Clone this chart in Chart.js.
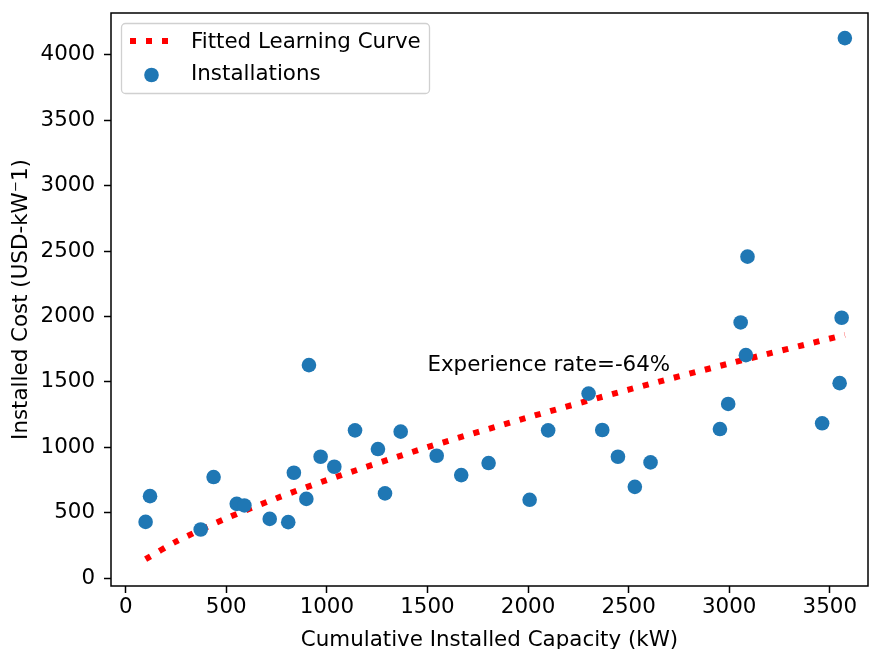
<!DOCTYPE html>
<html>
<head>
<meta charset="utf-8">
<script src="https://cdn.jsdelivr.net/npm/chart.js@4"></script>
<style>
  html, body { margin: 0; padding: 0; background: #fff; }
  #wrap { width: 870px; height: 649px; }
</style>
</head>
<body>
<div id="wrap"><canvas id="chart" width="870" height="649"></canvas></div>
<script>
/* ---- data ---- */
const capacity = [99, 121, 373, 437, 552, 590, 716, 808, 836, 898, 911, 969, 1037, 1140, 1254, 1289, 1367, 1546,
                  1668, 1804, 2008, 2100, 2301, 2369, 2447, 2531, 2609, 2954, 2995, 3057, 3083, 3091, 3462, 3549, 3559, 3575];
const cost = [429, 626, 371, 772, 567, 555, 452, 427, 805, 605, 1628, 927, 851, 1129, 986, 647, 1119, 935,
              787, 879, 598, 1129, 1410, 1132, 927, 697, 884, 1139, 1331, 1954, 1704, 2457, 1183, 1490, 1990, 4128];

// fitted learning curve
const curveCapacity = [99, 250, 500, 750, 1000, 1500, 2000, 2500, 3000, 3575];
const curveCost = [144, 278, 456, 610, 749, 1000, 1228, 1440, 1640, 1859];

const xTicks = [0, 500, 1000, 1500, 2000, 2500, 3000, 3500];
const yTicks = [0, 500, 1000, 1500, 2000, 2500, 3000, 3500, 4000];

const seriesNames = ["Fitted Learning Curve", "Installations"];
const annotationText = "Experience rate=-64%";
const annotationAt = [1500, 1580];

const FONT = "'DejaVu Sans', sans-serif";
const FS = 21.4;
const BLUE = "#1f77b4";
const RED = "#ff0000";

/* ---- frame, annotation and legend ---- */
const extrasPlugin = {
    id: "extras",
    afterDatasetsDraw(chart) {
        const ctx = chart.ctx;
        const a = chart.chartArea;
        const xs = chart.scales.x, ys = chart.scales.y;
        ctx.save();

        // annotation text
        ctx.font = FS + "px " + FONT;
        ctx.fillStyle = "#000";
        ctx.textAlign = "left";
        ctx.textBaseline = "alphabetic";
        ctx.fillText(annotationText, xs.getPixelForValue(annotationAt[0]), ys.getPixelForValue(annotationAt[1]));

        // legend box
        const bx = 121.5, by = 23.5, bw = 308, bh = 70, r = 4;
        ctx.beginPath();
        ctx.roundRect(bx, by, bw, bh, r);
        ctx.fillStyle = "rgba(255,255,255,0.8)";
        ctx.fill();
        ctx.strokeStyle = "#d0d0d0";
        ctx.lineWidth = 1.3;
        ctx.stroke();

        // dotted sample
        ctx.beginPath();
        ctx.setLineDash([6, 10]);
        ctx.lineCap = "butt";
        ctx.strokeStyle = RED;
        ctx.lineWidth = 6;
        ctx.moveTo(130, 41);
        ctx.lineTo(171, 41);
        ctx.stroke();
        ctx.setLineDash([]);

        // marker sample
        ctx.beginPath();
        ctx.arc(151.5, 75, 7.3, 0, Math.PI * 2);
        ctx.fillStyle = BLUE;
        ctx.fill();

        ctx.fillStyle = "#000";
        ctx.textBaseline = "middle";
        ctx.fillText(seriesNames[0], 191, 42);
        ctx.fillText(seriesNames[1], 191, 74);

        // full frame (all four spines)
        ctx.strokeStyle = "#000";
        ctx.lineWidth = 1.5;
        ctx.strokeRect(a.left, a.top, a.right - a.left, a.bottom - a.top);
        ctx.restore();
    }
};

function noPad(s) {
    s.paddingTop = 0; s.paddingBottom = 0; s.paddingLeft = 0; s.paddingRight = 0;
}

const ctx = document.getElementById("chart").getContext("2d");
new Chart(ctx, {
    type: "scatter",
    data: {
        datasets: [
            {
                type: "line",
                label: seriesNames[0],
                data: curveCapacity.map((v, i) => ({ x: v, y: curveCost[i] })),
                borderColor: RED,
                borderWidth: 6,
                borderDash: [6, 10],
                borderCapStyle: "butt",
                pointRadius: 0,
                fill: false,
                tension: 0.3,
                order: 2
            },
            {
                label: seriesNames[1],
                data: capacity.map((v, i) => ({ x: v, y: cost[i] })),
                backgroundColor: BLUE,
                borderWidth: 0,
                pointRadius: 7.3,
                order: 1
            }
        ]
    },
    options: {
        responsive: false,
        devicePixelRatio: 1,
        animation: false,
        layout: { autoPadding: false, padding: { top: 13, right: 2, left: 0, bottom: 0 } },
        plugins: {
            legend: { display: false },
            tooltip: { enabled: false }
        },
        scales: {
            x: {
                type: "linear",
                min: -73,
                max: 3690,
                afterBuildTicks: (s) => { s.ticks = xTicks.map((v) => ({ value: v })); },
                afterFit: (s) => { s.height = 63; noPad(s); },
                grid: { drawOnChartArea: false, drawTicks: true, tickLength: 7, tickWidth: 1.5, tickColor: "#000" },
                border: { display: false },
                ticks: {
                    color: "#000", font: { family: FONT, size: FS }, padding: 2, maxRotation: 0,
                    callback: (v) => String(v)
                },
                title: {
                    display: true,
                    text: "Cumulative Installed Capacity (kW)",
                    color: "#000",
                    font: { family: FONT, size: FS, lineHeight: 1 },
                    padding: { top: 0, bottom: -2 }
                }
            },
            y: {
                type: "linear",
                min: -61,
                max: 4320,
                afterBuildTicks: (s) => { s.ticks = yTicks.map((v) => ({ value: v })); },
                afterFit: (s) => { s.width = 111; noPad(s); },
                grid: { drawOnChartArea: false, drawTicks: true, tickLength: 7, tickWidth: 1.5, tickColor: "#000" },
                border: { display: false },
                ticks: {
                    color: "#000", font: { family: FONT, size: FS }, padding: 9,
                    callback: (v) => String(v)
                },
                title: {
                    display: true,
                    text: "Installed Cost (USD-kW\u207B1)",
                    color: "#000",
                    font: { family: FONT, size: FS, lineHeight: 1 },
                    padding: { top: 11, bottom: 0 }
                }
            }
        }
    },
    plugins: [extrasPlugin]
});
</script>
</body>
</html>
